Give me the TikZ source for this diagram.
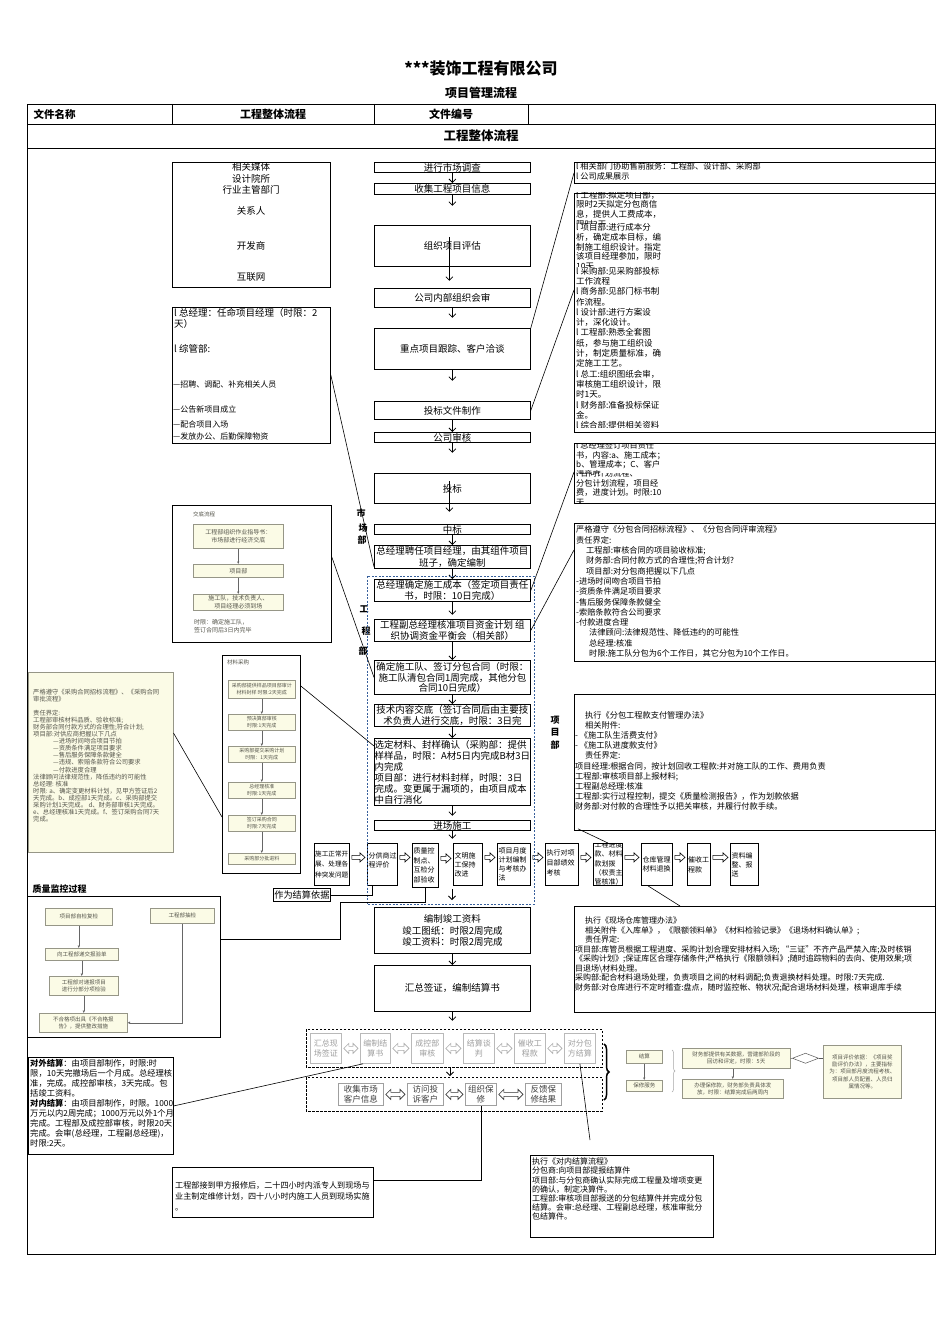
\documentclass[tikz,border=0pt]{standalone}
\usepackage{fontspec}
\setmainfont{Noto Sans CJK SC}
\usetikzlibrary{arrows.meta,calc,decorations.pathreplacing}

\definecolor{dblue}{RGB}{55,95,155}
\definecolor{pyel}{RGB}{251,251,230}
\definecolor{pbord}{RGB}{150,150,135}
\definecolor{ptext}{RGB}{85,85,75}

\newcommand\fs[2]{\fontsize{#1pt}{#2pt}\selectfont}

\tikzset{
 bx/.style={draw,line width=0.8pt,inner sep=0pt,anchor=north west},
 tx/.style={inner sep=0pt,align=left,anchor=north west},
 arr/.style={line width=0.8pt,-{Straight Barb[length=3.5pt,width=7pt]}},
 ln/.style={line width=0.6pt},
 pbx/.style={draw=pbord,fill=pyel,line width=0.5pt,inner sep=0pt,anchor=north west},
 parr/.style={draw=gray!80!black,line width=0.5pt,-{Latex[length=2.5pt,width=2.5pt]}},
}

% box with centred text
\newcommand\Bx[7][]{%
 \node[bx,minimum width=#5pt,minimum height=#6pt] (#2) at (#3,#4) {};
 \node[inner sep=0pt,align=center,font=\fs{9.5}{11.5},#1] (#2t) at (#2.center) {#7};}
% empty framed box
\newcommand\Ex[6][]{\node[bx,minimum width=#5pt,minimum height=#6pt,#1] (#2) at (#3,#4) {};}
% pale picture box
\newcommand\Px[7][]{%
 \node[pbx,minimum width=#5pt,minimum height=#6pt] (#2) at (#3,#4) {};
 \node[inner sep=0pt,align=center,text=ptext,font=\fs{5.5}{6.8},#1] (#2t) at (#2.center) {#7};}
% hollow right arrow
\newcommand\RArr[2]{%
 \draw[line width=0.6pt] let \p1=($(#1.east)+(2,-7)$), \p2=($(#2.west)+(-2,-7)$) in
 (\x1,\y1+2pt) -- (\x2-5pt,\y1+2pt) -- (\x2-5pt,\y1+4.5pt) -- (\x2,\y1) -- (\x2-5pt,\y1-4.5pt) -- (\x2-5pt,\y1-2pt) -- (\x1,\y1-2pt) -- cycle;}
% hollow double arrow
\newcommand\DArr[3]{%
 \draw[line width=0.6pt,#3] let \p1=($(#1.east)+(2,0)$), \p2=($(#2.west)+(-2,0)$) in
 (\x1,\y1) -- (\x1+5pt,\y1+5pt) -- (\x1+5pt,\y1+2pt) -- (\x2-5pt,\y1+2pt) -- (\x2-5pt,\y1+5pt) -- (\x2,\y1) -- (\x2-5pt,\y1-5pt) -- (\x2-5pt,\y1-2pt) -- (\x1+5pt,\y1-2pt) -- (\x1+5pt,\y1-5pt) -- cycle;}

\begin{document}
\begin{tikzpicture}[x=1pt,y=-1pt]
\useasboundingbox (0,0) rectangle (945,1337);
\fill[white] (0,0) rectangle (945,1337);

% ---------- header ----------
\node[font=\fs{16}{18}\bfseries] (title) at (481,68) {***装饰工程有限公司};
\node[font=\fs{12}{14}\bfseries] (subt) at (481,93) {项目管理流程};
\draw[line width=0.9pt] (27,104) rectangle (935,1254);
\draw[line width=0.9pt] (27,124) -- (935,124) (27,148) -- (935,148)
  (172,104) -- (172,124) (374,104) -- (374,124) (528,104) -- (528,124);
\node[font=\fs{10.5}{12}\bfseries,anchor=west] (hd1) at (30,114) {文件名称};
\node[font=\fs{11}{12}\bfseries] (hd2) at (273,114) {工程整体流程};
\node[font=\fs{11}{12}\bfseries] (hd3) at (451,114) {文件编号};
\node[font=\fs{12.5}{14}\bfseries] (hd4) at (481,136) {工程整体流程};

% ---------- left column ----------
\Ex{media}{172}{162}{158}{125}
\node[font=\fs{9.5}{11}] (m1) at (251,167) {相关媒体};
\node[font=\fs{9.5}{11}] (m2) at (251,179) {设计院所};
\node[font=\fs{9.5}{11}] (m3) at (251,190) {行业主管部门};
\node[font=\fs{9.5}{11}] (m4) at (251,211) {关系人};
\node[font=\fs{9.5}{11}] (m5) at (251,246) {开发商};
\node[font=\fs{9.5}{11}] (m6) at (251,277) {互联网};

\Ex{gm}{172}{307}{158}{136}
\node[tx,font=\fs{9.5}{11}] (gm1) at (174,308.5) {l 总经理：任命项目经理（时限：2\\天）};
\node[tx,font=\fs{9.5}{11}] (gm2) at (174,344) {l 综管部:};
\node[tx,font=\fs{8}{9.5}] (gm3) at (173,381) {—招聘、调配、补充相关人员};
\node[tx,font=\fs{8}{9.5}] (gm4) at (173,406) {—公告新项目成立};
\node[tx,font=\fs{8}{9.5}] (gm5) at (173,421) {—配合项目入场};
\node[tx,font=\fs{8}{9.5}] (gm6) at (173,433) {—发放办公、后勤保障物资};

% 交底流程 picture
\Ex{jd}{172}{505}{159}{137}
\node[tx,font=\fs{5.5}{6.5},text=ptext] (jdl) at (193,512) {交底流程};
\Px[font=\fs{6}{7.5}]{jd1}{193}{524}{90}{24}{工程部组织作业指导书：\\市场部进行经济交底}
\Px[font=\fs{6}{7.5}]{jd2}{193}{564}{90}{13}{项目部}
\Px[font=\fs{6}{7.5}]{jd3}{193}{594}{90}{16}{施工队，技术负责人、\\项目经理必须到场}
\node[tx,font=\fs{6}{8.5},text=ptext] (jdt) at (194,619) {时限：确定施工队，\\签订合同后3日内完毕};
\draw[parr] (jd1.south) -- (jd2.north);
\draw[parr] (jd2.south) -- (jd3.north);

% 材料采购 picture
\Ex{mcb}{222}{655}{78}{218}
\node[tx,font=\fs{5.5}{6.5},text=ptext] (mcl) at (227,660) {材料采购};
\Px[font=\fs{5}{6.5}]{mc1}{228}{680}{67}{18}{采购部提供样品项目部审计\\材料封样 时限:2天完成}
\Px[font=\fs{5}{6.5}]{mc2}{228}{714}{67}{16}{预决算部审核\\时限:1天完成}
\Px[font=\fs{5}{6.5}]{mc3}{228}{746}{67}{16}{采购部提交采购计划\\时限：1天完成}
\Px[font=\fs{5}{6.5}]{mc4}{228}{782}{67}{16}{总经理核准\\时限:1天完成}
\Px[font=\fs{5}{6.5}]{mc5}{228}{815}{67}{16}{签订采购合同\\时限:7天完成}
\Px[font=\fs{5}{6.5}]{mc6}{228}{853}{67}{11}{采购部分批进料}
\draw[parr] (mc1.south) -- (mc2.north);
\draw[parr] (mc2.south) -- (mc3.north);
\draw[parr] (mc3.south) -- (mc4.north);
\draw[parr] (mc4.south) -- (mc5.north);
\draw[parr] (mc5.south) -- (mc6.north);

% 采购合同 text box
\node[pbx,minimum width=145pt,minimum height=180pt] (pc) at (28,672) {};
\node[tx,font=\fs{6.3}{7.05},text=ptext] (pct) at (33,689) {严格遵守《采购合同招标流程》、《采购合同\\
审批流程》\\[7pt]
责任界定:\\
工程部审核材料品质、验收标准;\\
财务部合同付款方式的合理性;符合计划;\\
项目部:对供应商把握以下几点\\
\hspace*{20pt}—进场时间吻合项目节拍\\
\hspace*{20pt}—资质条件满足项目要求\\
\hspace*{20pt}—售后服务保障条款健全\\
\hspace*{20pt}—违规、索赔条款符合公司要求\\
\hspace*{20pt}—付款进度合理\\
法律顾问法律规范性，降低违约的可能性\\
总经理: 核准\\
时限: a、确定变更材料计划，见甲方签证后2\\
天完成。b、成控部1天完成。c、采购部提交\\
采购计划1天完成。 d、财务部审核1天完成。\\
e、总经理核准1天完成。f、签订采购合同7天\\
完成。};

% quality control
\node[anchor=west,font=\fs{9}{10}\bfseries] (qcl) at (29,889) {质量监控过程};
\Ex{qc}{27}{896}{193}{141}
\Px[font=\fs{5.5}{6.8}]{q1}{45}{908}{67}{17}{项目部自检复检}
\Px[font=\fs{5.5}{6.8}]{q2}{150}{908}{64}{15}{工程部抽检}
\Px[font=\fs{5.5}{6.8}]{q3}{45}{948}{73}{12}{向工程部递交报验单}
\Px[font=\fs{5.5}{6.8}]{q4}{49}{976}{69}{19}{工程部对递报项目\\进行分部分项检验}
\Px[font=\fs{5.5}{6.8}]{q5}{39}{1013}{88}{19}{不合格项出具《不合格报\\告》，提供整改措施}
\draw[parr] (q1.south) -- (q1.south |- q3.north);
\draw[parr] (q3.south) -- (q3.south |- q4.north);
\draw[parr] (q4.south) -- (q4.south |- q5.north);
\draw[parr] (q2.south) |- (q5.east);

% 对外结算 box
\Ex{wj}{28}{1057}{145}{97}
\node[tx,font=\fs{8.3}{10.1}] (wjt) at (30,1058.8) {\textbf{对外结算}：由项目部制作，时限:时\\
限，10天完撤场后一个月成。总经理核\\
准，完成。成控部审核，3天完成。包\\
括竣工资料。\\
\textbf{对内结算}：由项目部制作，时限。1000\\
万元以内2周完成；1000万元以外1个月\\
完成。工程部及成控部审核，时限20天\\
完成。会审(总经理，工程副总经理)，\\
时限:2天。};

% repair box
\Ex{rp}{172}{1167}{201}{50}
\node[tx,font=\fs{8.1}{11}] (rpt) at (175,1181) {工程部接到甲方报修后，二十四小时内派专人到现场与\\业主制定维修计划，四十八小时内施工人员到现场实施\\。};

% ---------- centre column ----------
\Bx{c1}{374}{162}{156}{10}{进行市场调查}
\Bx{c2}{374}{183}{156}{11}{收集工程项目信息}
\Bx{c3}{374}{225}{156}{41}{组织项目评估}
\Bx{c4}{374}{288}{156}{19}{公司内部组织会审}
\Bx{c5}{374}{328}{156}{41}{重点项目跟踪、客户洽谈}
\Bx{c6}{374}{401}{156}{18}{投标文件制作}
\Bx{c7}{374}{432}{156}{10}{公司审核}
\Bx{c8}{374}{473}{156}{30}{投标}
\Bx{c9}{374}{524}{156}{10}{中标}
\Bx{c10}{374}{545}{156}{23}{总经理聘任项目经理，由其组件项目\\班子，确定编制}
\Bx{c11}{374}{579}{156}{22}{总经理确定施工成本（签定项目责任\\书，时限：10日完成）}
\Bx{c12}{374}{619}{156}{22}{工程副总经理核准项目资金计划 组\\织协调资金平衡会（相关部）}
\Bx[font=\fs{9.5}{10.8}]{c13}{374}{660}{156}{34}{确定施工队、签订分包合同（时限：\\施工队清包合同1周完成，其他分包\\合同10日完成）}
\Bx{c14}{374}{704}{156}{22}{技术内容交底（签订合同后由主要技\\术负责人进行交底，时限：3日完}
\Bx[align=left,font=\fs{9.5}{11}]{c15}{374}{738}{156}{67}{选定材料、封样确认（采购部：提供\\样样品，时限：A材5日内完成B材3日\\内完成\\项目部：进行材料封样，时限：3日\\完成。变更属于漏项的，由项目成本\\中自行消化}
\Bx{c16}{374}{820}{156}{10}{进场施工}
\Bx[font=\fs{9.5}{11.8}]{c17}{374}{907}{156}{46}{编制竣工资料\\竣工图纸：时限2周完成\\竣工资料：时限2周完成}
\Bx{c18}{374}{965}{156}{46}{汇总签证，编制结算书}

\draw[arr] (c1.south) -- (c2.north);
\draw[arr] (c2.south) -- ++(0,11);
\draw[arr] ($(c3.center)+(-3,-9)$) -- ($(c3.south)+(-3,14)$);
\draw[arr] (c4.south) -- ++(0,10);
\draw[arr] (c5.south) -- ++(0,11);
\draw[arr] (c6.south) -- (c7.north);
\draw[arr] (c7.south) -- ++(0,10);
\draw[arr] ($(c8.center)+(-3,-7)$) -- ($(c8.south)+(-3,8)$);
\draw[arr] (c9.south) -- (c10.north);
\draw[arr] (c10.south) -- (c11.north);
\draw[arr] (c11.south) -- ++(0,13);
\draw[arr] (c12.south) -- (c13.north);
\draw[arr] (c13.south) -- (c14.north);
\draw[arr] (c14.south) -- (c15.north);
\draw[arr] (c15.south) -- ++(0,10);
\draw[arr] (c16.south) -- ++(0,8);
\coordinate (a1) at (452,889);
\draw[arr] (a1) -- ++(0,11);
\draw[arr] (c17.south) -- (c18.north);
\draw[arr] (c18.south) -- ++(0,9);

% side labels
\node[font=\fs{9}{10}\bfseries] (v1) at (361,513) {市};
\node[font=\fs{9}{10}\bfseries] (v2) at (363,528) {场};
\node[font=\fs{9}{10}\bfseries] (v3) at (362,540) {部};
\node[font=\fs{9}{10}\bfseries] (v4) at (364,609) {工};
\node[font=\fs{9}{10}\bfseries] (v5) at (366,631) {程};
\node[font=\fs{9}{10}\bfseries] (v6) at (363,651) {部};
\node[font=\fs{9}{10}\bfseries] (v7) at (555,720) {项};
\node[font=\fs{9}{10}\bfseries] (v8) at (555,732) {目};
\node[font=\fs{9}{10}\bfseries] (v9) at (555,745) {部};

% ---------- right column ----------
\Ex{ra}{574}{162}{361}{21}
\node[tx,font=\fs{8.2}{10}] (rat) at (576,162.8) {l 相关部门协助售前服务：工程部、设计部、采购部\\l 公司成果展示};

\Ex{rb}{574}{193}{361}{239}
\begin{scope}
\clip (574,193) rectangle (935,224);
\node[tx,font=\fs{8.5}{9.8}] (rb1) at (576,190.7) {l 工程部:拟定项目部，\\限时2天拟定分包商信\\息，提供人工费成本，\\限时2天};
\end{scope}
\begin{scope}
\clip (574,224) rectangle (935,266.5);
\node[tx,font=\fs{8.5}{9.7}] (rb2) at (576,223.3) {l 项目部:进行成本分\\析，确定成本目标，编\\制施工组织设计。指定\\该项目经理参加，限时\\10天};
\end{scope}
\begin{scope}
\clip (574,266.5) rectangle (935,427);
\node[tx,font=\fs{8.5}{10.3}] (rb3) at (576,266.8) {l 采购部:见采购部投标\\工作流程\\l 商务部:见部门标书制\\作流程。\\l 设计部:进行方案设\\计，深化设计。\\l 工程部:熟悉全套图\\纸，参与施工组织设\\计，制定质量标准，确\\定施工工艺。\\l 总工:组织图纸会审，\\审核施工组织设计，限\\时1天。\\l 财务部:准备投标保证\\金。\\l 综合部:提供相关资料};
\end{scope}

\Ex{rc}{574}{443}{361}{60}
\begin{scope}
\clip (574,443) rectangle (935,473.5);
\node[tx,font=\fs{8.2}{9.5}] (rc1) at (576,441.6) {l 总经理签订项目责任\\书，内容:a、施工成本；\\b、管理成本；C、客户\\满意度};
\end{scope}
\begin{scope}
\clip (574,473.5) rectangle (935,502);
\node[tx,font=\fs{8.2}{9.6}] (rc2) at (576,469.6) {l 合同计划流程、\\分包计划流程，项目经\\费，进度计划。时限:10\\天};
\end{scope}

\Ex{rd}{574}{523}{361}{138}
\node[tx,font=\fs{8.2}{10.3}] (rdt) at (576,525.8) {严格遵守《分包合同招标流程》、《分包合同评审流程》\\
责任界定:\\
\hspace*{10pt}工程部:审核合同的项目验收标准;\\
\hspace*{10pt}财务部:合同付款方式的合理性;符合计划?\\
\hspace*{10pt}项目部:对分包商把握以下几点\\
-进场时间吻合项目节拍\\
-资质条件满足项目要求\\
-售后服务保障条款健全\\
-索赔条款符合公司要求\\
-付款进度合理\\
\hspace*{13pt}法律顾问:法律规范性、降低违约的可能性\\
\hspace*{13pt}总经理:核准\\
\hspace*{13pt}时限:施工队分包为6个工作日，其它分包为10个工作日。};

\Ex{re}{574}{694}{361}{136}
\node[tx,font=\fs{8.2}{10.2}] (ret) at (575,711) {\hspace*{10pt}执行《分包工程款支付管理办法》\\
\hspace*{10pt}相关附件:\\
- 《施工队生活费支付》\\
- 《施工队进度款支付》\\
\hspace*{10pt}责任界定:\\
项目经理:根据合同，按计划回收工程款:并对施工队的工作、费用负责\\
工程部:审核项目部上报材料;\\
工程副总经理:核准\\
工程部:实行过程控制，提交《质量检测报告》，作为划款依据\\
财务部:对付款的合理性予以把关审核，并履行付款手续。};

\Ex{rf}{574}{906}{361}{106}
\node[tx,font=\fs{8}{9.5}] (rft) at (575,917) {\hspace*{10pt}执行《现场仓库管理办法》\\
\hspace*{10pt}相关附件《入库单》，《限额领料单》《材料检验记录》《退场材料确认单》;\\
\hspace*{10pt}责任界定:\\
项目部:库管员根据工程进度、采购计划合理安排材料入场; “三证”不齐产品严禁入库;及时核销\\
《采购计划》;保证库区合理存储条件;严格执行《限额领料》;随时追踪物料的去向、使用效果;项\\
目退场\textbackslash 材料处理。\\
采购部:配合材料退场处理，负责项目之间的材料调配;负责退换材料处理。时限:7天完成.\\
财务部:对仓库进行不定时稽查:盘点，随时监控帐、物状况;配合退场材料处理，核审退库手续};

% ---------- horizontal flow row ----------
\Ex{h1}{314}{843}{35}{42}
\node[anchor=west,inner sep=0pt,align=left,font=\fs{6.6}{10.5}] (h1t) at ($(h1.west)+(1,0)$) {施工正常开\\展、处理各\\种突发问题};
\Ex{h2}{367}{843}{30}{42}
\node[anchor=west,inner sep=0pt,align=left,font=\fs{7}{9.5}] (h2t) at ($(h2.west)+(1.5,-4)$) {分供商过\\程评价};
\Ex{h3}{412}{843}{26}{44}
\node[anchor=west,inner sep=0pt,align=left,font=\fs{7}{9.7}] (h3t) at ($(h3.west)+(1.5,0)$) {质量控\\制点、\\互检分\\部验收};
\Ex{h4}{453}{843}{29}{42}
\node[anchor=west,inner sep=0pt,align=left,font=\fs{7}{9}] (h4t) at ($(h4.west)+(1.5,0)$) {文明施\\工保持\\改进};
\Ex{h5}{497}{843}{33}{42}
\node[anchor=west,inner sep=0pt,align=left,font=\fs{7}{9}] (h5t) at ($(h5.west)+(1.5,0)$) {项目月度\\计划编制\\与考核办\\法};
\Ex{h6}{545}{843}{33}{42}
\node[anchor=west,inner sep=0pt,align=left,font=\fs{7}{10}] (h6t) at ($(h6.west)+(1.5,-2)$) {执行对项\\目部绩效\\考核};
\Ex{h7}{593}{843}{29}{42}
\begin{scope}
\clip (593,843) rectangle (622,885);
\node[tx,font=\fs{7}{9.3}] (h7t) at (594.5,841.5) {工程进度\\款、材料\\款划拨\\（权责主\\管核准）};
\end{scope}
\Ex{h8}{641}{843}{31}{42}
\node[anchor=west,inner sep=0pt,align=left,font=\fs{7}{9.5}] (h8t) at ($(h8.west)+(1.5,0)$) {仓库管理\\材料退换};
\Ex{h9}{687}{843}{23}{42}
\node[anchor=west,inner sep=0pt,align=left,font=\fs{7}{10}] (h9t) at ($(h9.west)+(1,0)$) {催收工\\程款};
\Ex{h10}{730}{843}{28}{42}
\node[anchor=west,inner sep=0pt,align=left,font=\fs{7}{9}] (h10t) at ($(h10.west)+(1.5,0)$) {资料编\\整、报\\送};
\RArr{h1}{h2}
\RArr{h2}{h3}
\RArr{h3}{h4}
\RArr{h4}{h5}
\RArr{h5}{h6}
\RArr{h6}{h7}
\RArr{h7}{h8}
\RArr{h8}{h9}
\RArr{h9}{h10}

\Bx[font=\fs{9.2}{11}]{jsyj}{273}{888}{57}{13}{作为结算依据}

% blue dashed frame
\draw[dblue,line width=0.8pt,dash pattern=on 2pt off 1.5pt] (367,576) rectangle (534,904);

% ---------- settlement rows ----------
\draw[line width=0.7pt,dash pattern=on 2.5pt off 1.5pt] (306,1029) rectangle (602,1067);
\draw[line width=0.7pt,dash pattern=on 2.5pt off 1.5pt] (306,1077) rectangle (602,1111);
\begin{scope}[bx/.append style={draw=gray!55}]
\Bx[font=\fs{8}{10},text=gray!75]{s1}{310}{1033}{31}{30}{汇总现\\场签证}
\Bx[font=\fs{8}{10},text=gray!75]{s2}{360}{1033}{30}{30}{编制结\\算书}
\Bx[font=\fs{8}{10},text=gray!75]{s3}{411}{1033}{32}{30}{成控部\\审核}
\Bx[font=\fs{8}{10},text=gray!75]{s4}{463}{1033}{31}{30}{结算谈\\判}
\Bx[font=\fs{8}{10},text=gray!75]{s5}{514}{1033}{31}{30}{催收工\\程款}
\Bx[font=\fs{8}{10},text=gray!75]{s6}{564}{1033}{31}{30}{对分包\\方结算}
\end{scope}
\DArr{s1}{s2}{draw=gray!65}
\DArr{s2}{s3}{draw=gray!65}
\DArr{s3}{s4}{draw=gray!65}
\DArr{s4}{s5}{draw=gray!65}
\DArr{s5}{s6}{draw=gray!65}
\begin{scope}[bx/.append style={draw=gray!75}]
\Bx[font=\fs{8.5}{10.5},text=black!75]{r1}{338}{1083}{45}{22}{收集市场\\客户信息}
\Bx[font=\fs{8.5}{10.5},text=black!75]{r2}{407}{1083}{36}{22}{访问投\\诉客户}
\Bx[font=\fs{8.5}{10.5},text=black!75]{r3}{465}{1083}{31}{22}{组织保\\修}
\Bx[font=\fs{8.5}{10.5},text=black!75]{r4}{525}{1083}{36}{22}{反馈保\\修结果}
\end{scope}
\DArr{r1}{r2}{draw=black!80}
\DArr{r2}{r3}{draw=black!80}
\DArr{r3}{r4}{draw=black!80}
\coordinate (a2) at (450,1068);
\draw[arr] (a2) -- ++(0,8);
\coordinate (br1) at (604,1044);
\coordinate (br2) at (604,1100);
\draw[decorate,decoration={brace,amplitude=5pt},line width=1.5pt] (br1) -- (br2);

% bottom-right picture
\Px[font=\fs{5.5}{6.8}]{rb1p}{626}{1050}{36}{13}{结算}
\Px[font=\fs{5.5}{6.8}]{rb2p}{626}{1080}{36}{11}{保修服务}
\draw[parr] (rb1p.south) -- (rb2p.north);
\coordinate (lb1) at (672,1050);
\coordinate (lb2) at (672,1092);
\draw[gray!70,line width=0.5pt,decorate,decoration={brace,amplitude=3pt}] (lb1) -- (lb2);
\Px[font=\fs{5.5}{6.8}]{rb3p}{682}{1048}{108}{20}{财务部提供有关数据，营建部阶段的\\回访和评定，时限：5天}
\Px[font=\fs{5.5}{6.8}]{rb4p}{682}{1079}{101}{19}{办理保修款，财务部负责具体发\\放，时限：结算完成后两周内}
\draw[parr] (rb3p.south -| rb4p.north) -- (rb4p.north);
\Px[font=\fs{5.5}{7.2}]{rb5p}{823}{1045}{78}{53}{项目评价依据：《项目奖\\励评价办法》，主要指标\\为：项目部月度流程考核、\\项目部人员配置、人员归\\属情况等。}
\draw[gray!70!black,line width=0.5pt] (rb3p.east) -- ($(rb3p.east)+(2,0)$) -- ($(rb3p.east)+(15,-5)$) -- ($(rb3p.east)+(28,0)$) -- ($(rb3p.east)+(15,5)$) -- ($(rb3p.east)+(2,0)$);
\draw[gray!70!black,line width=0.5pt] ($(rb3p.east)+(28,0)$) -- (rb5p.west |- rb3p.east);

% 对内结算 box
\Ex{nj}{530}{1155}{183}{82}
\node[tx,font=\fs{8}{9.2}] (njt) at (532,1157.8) {执行《对内结算流程》\\
分包商:向项目部提报结算件\\
项目部:与分包商确认实际完成工程量及增项变更\\
的确认，制定决算件。\\
工程部:审核项目部报送的分包结算件并完成分包\\
结算。会审:总经理、工程副总经理，核准审批分\\
包结算件。};

% ---------- connectors ----------
\draw[ln] (c5.north east) -- (ra.west);
\draw[ln] (c6.east) -- ($(rb.north west)+(0,97)$);
\draw[ln] (c11.east) -- ($(rc.north west)+(0,29)$);
\draw[ln] (c12.east) -- ($(rd.north west)+(0,27)$);
\draw[ln] ($(re.south west)+(4,-2)$) -- (h7.north);
\draw[ln] ($(h8.south)+(-9,0)$) -- ($(rf.north west)+(106,0)$);
\draw[ln] ($(gm.north east)+(0,68)$) -- ($(c10.south west)+(0,-2)$);
\draw[ln] ($(jd.north east)+(0,52)$) -- (c13.west);
\draw[ln] ($(mcb.north east)+(0,31)$) -- ($(c15.north west)+(0,8)$);
\draw[ln] ($(pc.north east)+(0,61)$) -- ($(mcb.north west)+(0,162)$);
\draw[ln] (jsyj.east) -| ($(h2.south west)+(5,0)$);
\coordinate (k1) at (340,902);
\coordinate (k2) at (340,939);
\draw[ln] (h3.south) |- (k1) -- (k2) -- (qc.east |- k2);
\draw[ln] (wj.east) -- ($(s2.south west)+(3,0)$);
\draw[ln] ($(rp.north east)+(0,13)$) -| (r3.south);
\coordinate (k3) at (590,1140);
\draw[ln] (s6.south) -- (k3);
\end{tikzpicture}
\end{document}
